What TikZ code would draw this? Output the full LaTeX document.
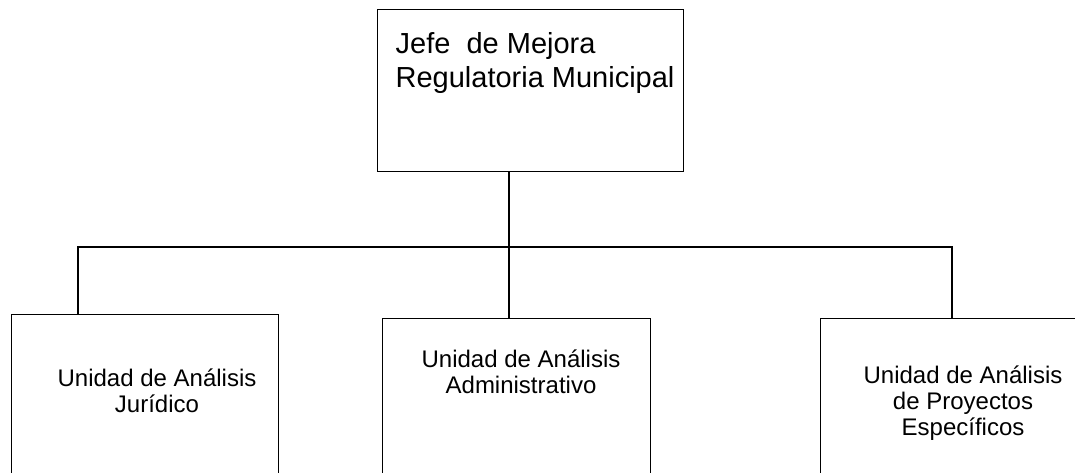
\documentclass[tikz,border=0pt]{standalone}
\usepackage{fontspec}
\setmainfont{Liberation Sans}
\begin{document}
\begin{tikzpicture}[x=1pt,y=-1pt,line width=1.3pt]
\tikzstyle{box}=[draw, rectangle, anchor=north west, inner sep=0pt]
\tikzstyle{title}=[anchor=base west, align=left, inner sep=0pt, font=\fontsize{29}{34}\selectfont]
\tikzstyle{unit}=[anchor=base, align=center, inner sep=0pt, font=\fontsize{24}{25.5}\selectfont]

\useasboundingbox (0,0) rectangle (1075,472);
\clip (0,0) rectangle (1075,472);

\draw (377,9) node[box, minimum width=306pt, minimum height=162pt] (jefe) {};
\draw (11,314) node[box, minimum width=267pt, minimum height=200pt] (juridico) {};
\draw (382,318) node[box, minimum width=268pt, minimum height=200pt] (administrativo) {};
\draw (820,318) node[box, minimum width=280pt, minimum height=200pt] (proyectos) {};

% last line baselines
\draw (395,87) node[title] (jefetext) {Jefe\ \ de Mejora\\Regulatoria Municipal};
\draw (157,412) node[unit] (juridicotext) {Unidad de Análisis\\Jurídico};
\draw (521,393) node[unit] (administrativotext) {Unidad de Análisis\\Administrativo};
\draw (963,435) node[unit, font=\fontsize{24}{26}\selectfont] (proyectostext) {Unidad de Análisis\\de Proyectos\\Específicos};

\coordinate (bar) at (509,247);
\coordinate (barl) at (78,247);
\coordinate (barr) at (952,247);
\draw (jefe.south -| bar) -- (administrativo.north -| bar);
\draw (juridico.north -| barl) |- (barr) -- (proyectos.north -| barr);
\end{tikzpicture}
\end{document}
